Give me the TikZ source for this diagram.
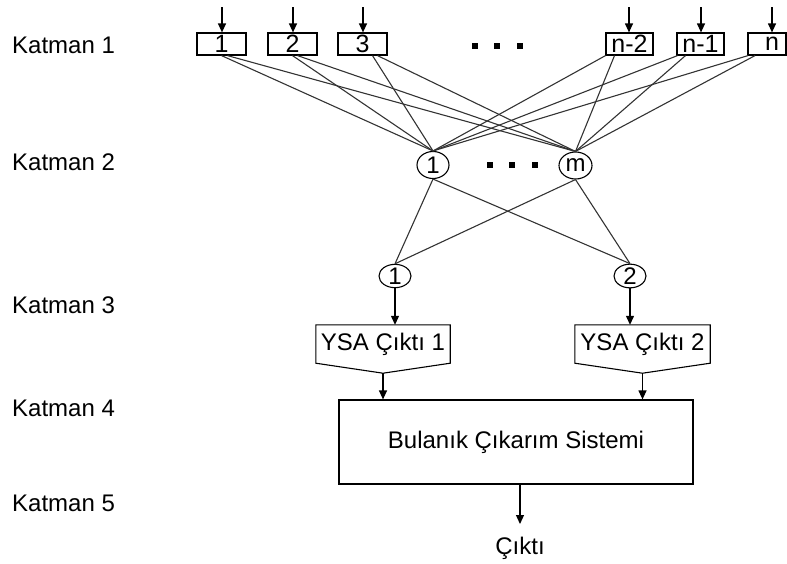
\documentclass[tikz,border=0pt]{standalone}
\usepackage{fontspec}
\setmainfont{Liberation Sans}
\usetikzlibrary{arrows.meta,calc,shapes.geometric}
\begin{document}
\begin{tikzpicture}[x=1pt,y=-1pt,
  txt/.style={font=\fontsize{24}{28}\selectfont, inner sep=0pt},
  lbl/.style={txt, anchor=west},
  inbox/.style={draw, line width=1.2pt, minimum height=22pt, inner sep=0pt, font=\fontsize{25}{28}\selectfont},
  neuron/.style={draw, line width=1.1pt, ellipse, inner sep=0pt, font=\fontsize{24}{26}\selectfont},
  conn/.style={draw=black!80, line width=1.1pt},
  arr/.style={draw, line width=1.2pt, -{Triangle[width=8pt,length=9pt]}},
  dot/.style={fill, minimum size=6pt, inner sep=0pt},
  bigbox/.style={draw, line width=1.2pt, minimum width=354pt, minimum height=84pt, inner sep=0pt, font=\fontsize{24}{28}\selectfont}]
\useasboundingbox (0,0) rectangle (787,563);
% layer labels
\node[lbl] (k1) at (12,45) {Katman 1};
\node[lbl] (k2) at (12,162) {Katman 2};
\node[lbl] (k3) at (12,305) {Katman 3};
\node[lbl] (k4) at (12,408) {Katman 4};
\node[lbl] (k5) at (12,503) {Katman 5};
% layer 1 inputs
\node[inbox, minimum width=49pt] (b1) at (221.5,44) {1};
\node[inbox, minimum width=49pt] (b2) at (292.5,44) {2};
\node[inbox, minimum width=49pt] (b3) at (362.5,44) {3};
\node[inbox, minimum width=47pt] (bn2) at (629.5,44) {n-2};
\node[inbox, minimum width=47pt] (bn1) at (700.5,44) {n-1};
\node[inbox, minimum width=38pt] (bn) at (767,44) {\hspace*{10pt}n};
\node[dot] (d1) at (474.5,45.5) {};
\node[dot] (d2) at (496.5,45.5) {};
\node[dot] (d3) at (520,45.5) {};
% input arrows
\coordinate (i1) at (222,7);
\coordinate (i2) at (293,7);
\coordinate (i3) at (363,7);
\coordinate (i4) at (629,7);
\coordinate (i5) at (701,7);
\coordinate (i6) at (772,7);
\draw[arr] (i1) -- (i1 |- b1.north);
\draw[arr] (i2) -- (i2 |- b2.north);
\draw[arr] (i3) -- (i3 |- b3.north);
\draw[arr] (i4) -- (i4 |- bn2.north);
\draw[arr] (i5) -- (i5 |- bn1.north);
\draw[arr] (i6) -- (i6 |- bn.north);
% layer 2 neurons
\node[neuron, minimum width=32pt, minimum height=27pt] (h1) at (433,165) {1};
\node[neuron, minimum width=33pt, minimum height=27pt] (hm) at (575.5,165.5) {m};
\node[dot] (e1) at (490,164.5) {};
\node[dot] (e2) at (511.5,164.5) {};
\node[dot] (e3) at (535,164.5) {};
% layer 1 -> layer 2
\draw[conn] (b1.south) -- (h1.north);
\draw[conn] ($(b1.south)+(6,0)$) -- (hm.north);
\draw[conn] (b2.south) -- (h1.north);
\draw[conn] ($(b2.south)+(5,0)$) -- (hm.north);
\draw[conn] ($(b3.south)+(10,0)$) -- (h1.north);
\draw[conn] ($(b3.south)+(15,0)$) -- (hm.north);
\draw[conn] ($(bn2.south)+(-24,0)$) -- (h1.north);
\draw[conn] ($(bn2.south)+(-15,0)$) -- (hm.north);
\draw[conn] ($(bn1.south)+(-23,0)$) -- (h1.north);
\draw[conn] ($(bn1.south)+(-15,0)$) -- (hm.north);
\draw[conn] ($(bn.south)+(-19,0)$) -- (h1.north);
\draw[conn] ($(bn.south)+(-12,0)$) -- (hm.north);
% layer 2 outputs
\node[neuron, minimum width=32pt, minimum height=23pt] (o1) at (395,276) {1};
\node[neuron, minimum width=32pt, minimum height=23pt] (o2) at (630,276) {2};
\draw[conn] (h1.south) -- (o1.north);
\draw[conn] (h1.south) -- (o2.north);
\draw[conn] (hm.south) -- (o1.north);
\draw[conn] (hm.south) -- (o2.north);
% layer 3 YSA outputs
\node[txt, minimum width=134pt, minimum height=38pt] (y1) at (383,344) {YSA Çıktı 1};
\node[txt, minimum width=135pt, minimum height=38pt] (y2) at (642.5,344) {YSA Çıktı 2};
\coordinate (t1) at ($(y1.south)+(0,10)$);
\coordinate (t2) at ($(y2.south)+(0,10)$);
\draw[line width=1.1pt] (y1.north west) -- (y1.north east) -- (y1.south east) -- (t1) -- (y1.south west) -- cycle;
\draw[line width=1.1pt] (y2.north west) -- (y2.north east) -- (y2.south east) -- (t2) -- (y2.south west) -- cycle;
\draw[arr] (o1.south) -- (o1.south |- y1.north);
\draw[arr] (o2.south) -- (o2.south |- y2.north);
% layer 4
\node[bigbox] (f) at (516,442) {Bulanık Çıkarım Sistemi};
\draw[arr] (t1) -- (t1 |- f.north);
\draw[arr] (t2) -- (t2 |- f.north);
% layer 5
\node[txt] (out) at (520,548) {Çıktı};
\coordinate (fo) at (520,484);
\coordinate (fe) at (520,524);
\draw[arr] (fo) -- (fe);
\end{tikzpicture}
\end{document}
